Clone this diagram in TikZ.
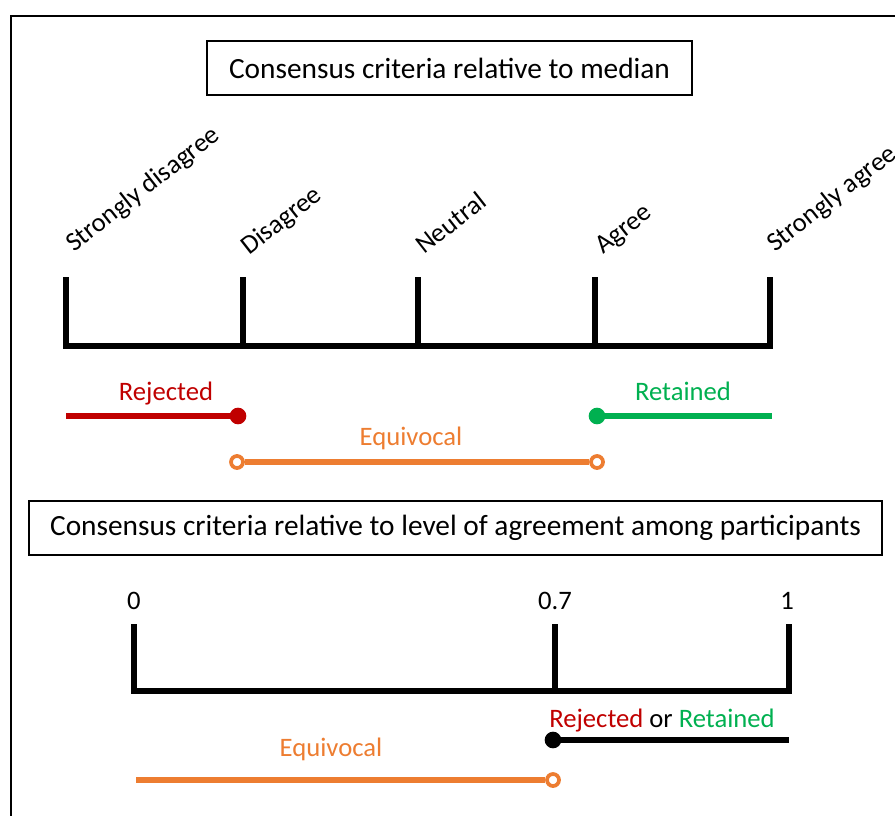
\documentclass[tikz,border=0pt]{standalone}
\usepackage{fontspec}
\setmainfont{Carlito}
\definecolor{rej}{HTML}{C00000}
\definecolor{ret}{HTML}{00B050}
\definecolor{equ}{HTML}{ED7D31}
\begin{document}
\begin{tikzpicture}[x=0.75pt,y=-0.75pt,
  titlebox/.style={draw=black,line width=1.5pt,inner sep=0pt,font=\fontsize{22}{26}\selectfont},
  axis/.style={line width=4.8pt,line cap=rect,line join=miter},
  ticklab/.style={rotate=38,anchor=base west,inner sep=0pt,font=\fontsize{20}{24}\selectfont},
  numlab/.style={anchor=base,inner sep=0pt,font=\fontsize{20}{24}\selectfont},
  rangelab/.style={anchor=base,inner sep=0pt,font=\fontsize{20}{24}\selectfont},
  rangeline/.style={line width=4.6pt},
  eqline/.style={line width=4.2pt,draw=equ},
  fulldot/.style={circle,inner sep=0pt,minimum size=12.5pt},
  opendot/.style={circle,draw=equ,fill=white,line width=2.8pt,inner sep=0pt,minimum size=9pt}]
\useasboundingbox (0,0) rectangle (895,816);
\draw[line width=1.5pt] (11,16) rectangle (910,830);
% title 1
\node[titlebox,minimum width=485*0.75pt,minimum height=54*0.75pt] (t1) at (449.5,68) {Consensus criteria relative to median};
% top axis
\coordinate (a1) at (66,346); \coordinate (a2) at (243,346); \coordinate (a3) at (418,346);
\coordinate (a4) at (595,346); \coordinate (a5) at (770,346);
\draw[axis] (66,280) -- (a1) -- (a5) -- (770,280);
\draw[axis] (a2) -- (243,280);
\draw[axis] (a3) -- (418,280);
\draw[axis] (a4) -- (595,280);
\node[ticklab] (l1) at (74,253) {Strongly disagree};
\node[ticklab] (l2) at (249,256) {Disagree};
\node[ticklab] (l3) at (424,255) {Neutral};
\node[ticklab] (l4) at (603,255) {Agree};
\node[ticklab] (l5) at (775,253) {Strongly agree};
% rejected
\coordinate (r0) at (66,416);
\node[fulldot,fill=rej] (r1) at (238,416) {};
\draw[rangeline,draw=rej] (r0) -- (r1.center);
\node[rangelab,text=rej] (rl) at (166,400) {Rejected};
% retained
\node[fulldot,fill=ret] (g0) at (597,416) {};
\coordinate (g1) at (772,416);
\draw[rangeline,draw=ret] (g0.center) -- (g1);
\node[rangelab,text=ret] (gl) at (683,400) {Retained};
% equivocal 1
\node[opendot] (e0) at (237,462) {};
\node[opendot] (e1) at (597,462) {};
\draw[eqline] (e0) -- (e1);
\node[rangelab,text=equ] (el) at (411,445) {Equivocal};
% title 2
\node[titlebox,minimum width=853*0.75pt,minimum height=54*0.75pt] (t2) at (455.5,528) {Consensus criteria relative to level of agreement among participants};
% bottom axis
\coordinate (b1) at (134,691); \coordinate (b2) at (555,691); \coordinate (b3) at (789,691);
\draw[axis] (134,627) -- (b1) -- (b3) -- (789,627);
\draw[axis] (b2) -- (555,627);
\node[numlab] (n1) at (134,609) {0};
\node[numlab] (n2) at (555,609) {0.7};
\node[numlab] (n3) at (787,609) {1};
% rejected or retained
\node[rangelab] (rr) at (662,727) {\textcolor{rej}{Rejected} or \textcolor{ret}{Retained}};
\node[fulldot,fill=black] (k0) at (553,740) {};
\coordinate (k1) at (789,740);
\draw[rangeline,draw=black] (k0.center) -- (k1);
% equivocal 2
\coordinate (q0) at (136,780);
\node[opendot] (q1) at (553,780) {};
\draw[eqline] (q0) -- (q1);
\node[rangelab,text=equ] (ql) at (331,756) {Equivocal};
\end{tikzpicture}
\end{document}
